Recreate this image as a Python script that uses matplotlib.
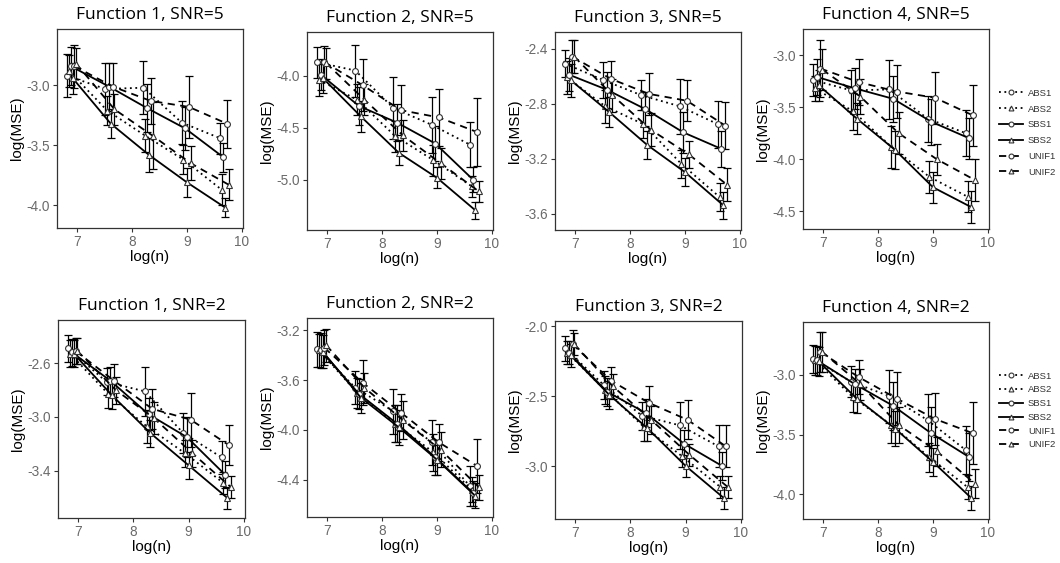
import numpy as np
import matplotlib
matplotlib.use("Agg")
import matplotlib.pyplot as plt
from matplotlib.lines import Line2D

# sample sizes n = 1000 ... 16000 on a log scale
log_n = np.log([1000, 2000, 4000, 8000, 16000])

methods = ["ABS1", "ABS2", "SBS1", "SBS2", "UNIF1", "UNIF2"]
styles = {
    "ABS1": ((0, (1, 2)), "o"),
    "ABS2": ((0, (1, 2)), "^"),
    "SBS1": ("-", "o"),
    "SBS2": ("-", "^"),
    "UNIF1": ((0, (4, 3)), "o"),
    "UNIF2": ((0, (4, 3)), "^"),
}

titles = ["Function 1, SNR=5", "Function 2, SNR=5", "Function 3, SNR=5", "Function 4, SNR=5",
          "Function 1, SNR=2", "Function 2, SNR=2", "Function 3, SNR=2", "Function 4, SNR=2"]

# mean log(MSE), one list per method (order of methods)
mean_f1_s5 = [[-2.92, -3.03, -3.02, -3.31, -3.44],
              [-2.88, -3.21, -3.42, -3.62, -3.87],
              [-2.84, -3.01, -3.19, -3.36, -3.60],
              [-2.94, -3.32, -3.58, -3.81, -4.02],
              [-2.84, -3.01, -3.13, -3.18, -3.32],
              [-2.82, -3.20, -3.42, -3.65, -3.83]]
err_f1_s5 = [[0.18, 0.22, 0.22, 0.18, 0.13],
             [0.13, 0.12, 0.14, 0.12, 0.13],
             [0.16, 0.20, 0.20, 0.18, 0.12],
             [0.13, 0.12, 0.14, 0.12, 0.08],
             [0.18, 0.20, 0.19, 0.26, 0.20],
             [0.13, 0.13, 0.28, 0.14, 0.13]]

mean_f2_s5 = [[-3.87, -3.95, -4.31, -4.47, -4.66],
              [-4.04, -4.23, -4.58, -4.81, -5.06],
              [-3.99, -4.29, -4.45, -4.65, -5.00],
              [-4.02, -4.39, -4.74, -4.98, -5.29],
              [-3.87, -4.09, -4.33, -4.40, -4.54],
              [-3.88, -4.23, -4.57, -4.84, -5.11]]
err_f2_s5 = [[0.15, 0.25, 0.30, 0.27, 0.22],
             [0.15, 0.15, 0.15, 0.15, 0.10],
             [0.15, 0.18, 0.18, 0.17, 0.12],
             [0.15, 0.15, 0.12, 0.10, 0.08],
             [0.16, 0.25, 0.24, 0.27, 0.33],
             [0.15, 0.15, 0.15, 0.15, 0.10]]

mean_f3_s5 = [[-2.51, -2.63, -2.74, -2.82, -2.95],
              [-2.61, -2.82, -2.95, -3.24, -3.48],
              [-2.59, -2.70, -2.84, -3.01, -3.13],
              [-2.63, -2.86, -3.10, -3.30, -3.54],
              [-2.46, -2.62, -2.73, -2.78, -2.96],
              [-2.46, -2.74, -2.99, -3.17, -3.39]]
err_f3_s5 = [[0.10, 0.13, 0.11, 0.20, 0.17],
             [0.12, 0.12, 0.10, 0.10, 0.10],
             [0.12, 0.13, 0.12, 0.15, 0.13],
             [0.12, 0.11, 0.10, 0.10, 0.10],
             [0.12, 0.13, 0.15, 0.15, 0.17],
             [0.12, 0.12, 0.12, 0.10, 0.12]]

mean_f4_s5 = [[-3.24, -3.34, -3.33, -3.61, -3.75],
              [-3.32, -3.54, -3.88, -4.17, -4.36],
              [-3.21, -3.32, -3.42, -3.64, -3.80],
              [-3.29, -3.61, -3.91, -4.27, -4.46],
              [-3.13, -3.26, -3.35, -3.41, -3.58],
              [-3.14, -3.40, -3.75, -4.00, -4.20]]
err_f4_s5 = [[0.15, 0.20, 0.28, 0.22, 0.22],
             [0.12, 0.18, 0.20, 0.15, 0.15],
             [0.17, 0.20, 0.22, 0.22, 0.20],
             [0.15, 0.15, 0.18, 0.15, 0.15],
             [0.27, 0.22, 0.25, 0.25, 0.29],
             [0.20, 0.17, 0.20, 0.15, 0.20]]

mean_f1_s2 = [[-2.49, -2.74, -2.81, -3.12, -3.30],
              [-2.53, -2.83, -3.07, -3.27, -3.49],
              [-2.52, -2.73, -2.98, -3.15, -3.43],
              [-2.53, -2.84, -3.12, -3.36, -3.60],
              [-2.51, -2.73, -2.94, -3.02, -3.21],
              [-2.51, -2.80, -3.01, -3.27, -3.52]]
err_f1_s2 = [[0.10, 0.10, 0.18, 0.15, 0.12],
             [0.10, 0.10, 0.12, 0.10, 0.08],
             [0.10, 0.10, 0.12, 0.15, 0.10],
             [0.10, 0.10, 0.10, 0.10, 0.08],
             [0.10, 0.12, 0.15, 0.20, 0.15],
             [0.10, 0.10, 0.12, 0.10, 0.08]]

mean_f2_s2 = [[-3.35, -3.66, -3.85, -4.10, -4.45],
              [-3.36, -3.70, -3.95, -4.18, -4.48],
              [-3.36, -3.71, -3.95, -4.22, -4.51],
              [-3.37, -3.74, -3.98, -4.24, -4.53],
              [-3.34, -3.62, -3.86, -4.10, -4.29],
              [-3.32, -3.66, -3.92, -4.16, -4.46]]
err_f2_s2 = [[0.14, 0.13, 0.18, 0.18, 0.16],
             [0.13, 0.12, 0.15, 0.15, 0.10],
             [0.14, 0.12, 0.15, 0.14, 0.10],
             [0.13, 0.12, 0.14, 0.12, 0.10],
             [0.14, 0.18, 0.15, 0.15, 0.22],
             [0.13, 0.12, 0.15, 0.14, 0.10]]

mean_f3_s2 = [[-2.16, -2.42, -2.64, -2.71, -2.86],
              [-2.19, -2.46, -2.72, -2.93, -3.15],
              [-2.19, -2.47, -2.62, -2.84, -3.00],
              [-2.21, -2.49, -2.73, -3.00, -3.23],
              [-2.13, -2.39, -2.55, -2.67, -2.86],
              [-2.13, -2.43, -2.67, -2.92, -3.15]]
err_f3_s2 = [[0.09, 0.10, 0.10, 0.17, 0.15],
             [0.08, 0.10, 0.10, 0.08, 0.08],
             [0.08, 0.10, 0.10, 0.10, 0.10],
             [0.08, 0.10, 0.09, 0.08, 0.08],
             [0.10, 0.10, 0.12, 0.14, 0.15],
             [0.08, 0.09, 0.10, 0.08, 0.08]]

mean_f4_s2 = [[-2.87, -3.06, -3.18, -3.38, -3.63],
              [-2.88, -3.19, -3.42, -3.69, -3.94],
              [-2.88, -3.08, -3.26, -3.49, -3.69],
              [-2.89, -3.20, -3.45, -3.73, -4.03],
              [-2.81, -3.02, -3.20, -3.37, -3.49],
              [-2.81, -3.08, -3.42, -3.64, -3.91]]
err_f4_s2 = [[0.12, 0.13, 0.22, 0.22, 0.20],
             [0.12, 0.12, 0.15, 0.12, 0.10],
             [0.12, 0.13, 0.20, 0.22, 0.20],
             [0.12, 0.12, 0.15, 0.12, 0.10],
             [0.17, 0.14, 0.22, 0.22, 0.26],
             [0.17, 0.13, 0.15, 0.12, 0.12]]

panel_means = [mean_f1_s5, mean_f2_s5, mean_f3_s5, mean_f4_s5,
               mean_f1_s2, mean_f2_s2, mean_f3_s2, mean_f4_s2]
panel_errs = [err_f1_s5, err_f2_s5, err_f3_s5, err_f4_s5,
              err_f1_s2, err_f2_s2, err_f3_s2, err_f4_s2]

panel_ylims = [(-4.19, -2.53), (-5.48, -3.58), (-3.72, -2.28), (-4.67, -2.75),
               (-3.75, -2.28), (-4.70, -3.10), (-3.378, -1.964), (-4.206, -2.56)]
panel_yticks = [[-4.0, -3.5, -3.0], [-5.0, -4.5, -4.0], [-3.6, -3.2, -2.8, -2.4],
                [-4.5, -4.0, -3.5, -3.0], [-3.4, -3.0, -2.6], [-4.4, -4.0, -3.6, -3.2],
                [-3.0, -2.5, -2.0], [-4.0, -3.5, -3.0]]

# axes boxes in pixels: left, right, top, bottom
W, H = 1060, 563
boxes = [(57, 243, 29, 228), (307, 493, 32, 230), (555, 741, 32, 230), (803, 989, 29, 229),
         (58, 245, 320, 518), (307, 493, 318, 517), (555, 742, 321, 519), (803, 989, 322, 519)]

plt.rcParams['font.family'] = ['Liberation Sans', 'DejaVu Sans']

fig = plt.figure(figsize=(W / 100, H / 100), dpi=100)
dodge = (np.arange(6) - 2.5) * 0.2 / 6
tick_grey = '#6a6a6a'

for p in range(8):
    l, r, t, b = boxes[p]
    ax = fig.add_axes([l / W, 1 - b / H, (r - l) / W, (b - t) / H])
    for i, m in enumerate(methods):
        ls, mk = styles[m]
        x = log_n + dodge[i]
        ax.errorbar(x, panel_means[p][i], yerr=panel_errs[p][i],
                    fmt='none', ecolor='black', elinewidth=0.9, capsize=3.2, capthick=0.9, zorder=2)
        ax.plot(x, panel_means[p][i], linestyle=ls, color='black', lw=1.3,
                marker=mk, markersize=4.2, markerfacecolor='white', markeredgecolor='#333333',
                markeredgewidth=0.8, zorder=3)
    ax.set_xlim(6.64, 10.02)
    ax.set_ylim(*panel_ylims[p])
    ax.set_xticks([7, 8, 9, 10])
    ax.set_yticks(panel_yticks[p])
    ax.set_yticklabels([f"{v:.1f}" for v in panel_yticks[p]])
    ax.tick_params(labelsize=9.8, colors='#333333', labelcolor=tick_grey, length=3, width=0.8, pad=2)
    for s in ax.spines.values():
        s.set_color('#333333')
        s.set_linewidth(0.9)
    ax.set_xlabel('log(n)', fontsize=11, labelpad=1)
    ax.set_ylabel('log(MSE)', fontsize=11, labelpad=2)
    ax.set_title(titles[p], fontsize=12.5, pad=7, family=['Open Sans', 'DejaVu Sans'])

# legends to the right of the last column
handles = []
for m in methods:
    ls, mk = styles[m]
    handles.append(Line2D([], [], linestyle=ls, color='black', lw=1.3, marker=mk, markersize=3.5,
                          markerfacecolor='white', markeredgecolor='#333333', markeredgewidth=0.8))
for y_top, spacing in [(84 / H, 0.72), (367 / H, 0.5)]:
    leg = fig.legend(handles, methods, loc='upper left', bbox_to_anchor=(994 / W, 1 - y_top),
                     frameon=False, fontsize=6.8, handlelength=2.6, handletextpad=0.5,
                     labelspacing=spacing, borderpad=0)
    for txt in leg.get_texts():
        txt.set_color('#333333')

fig.savefig('out.png', dpi=100)
